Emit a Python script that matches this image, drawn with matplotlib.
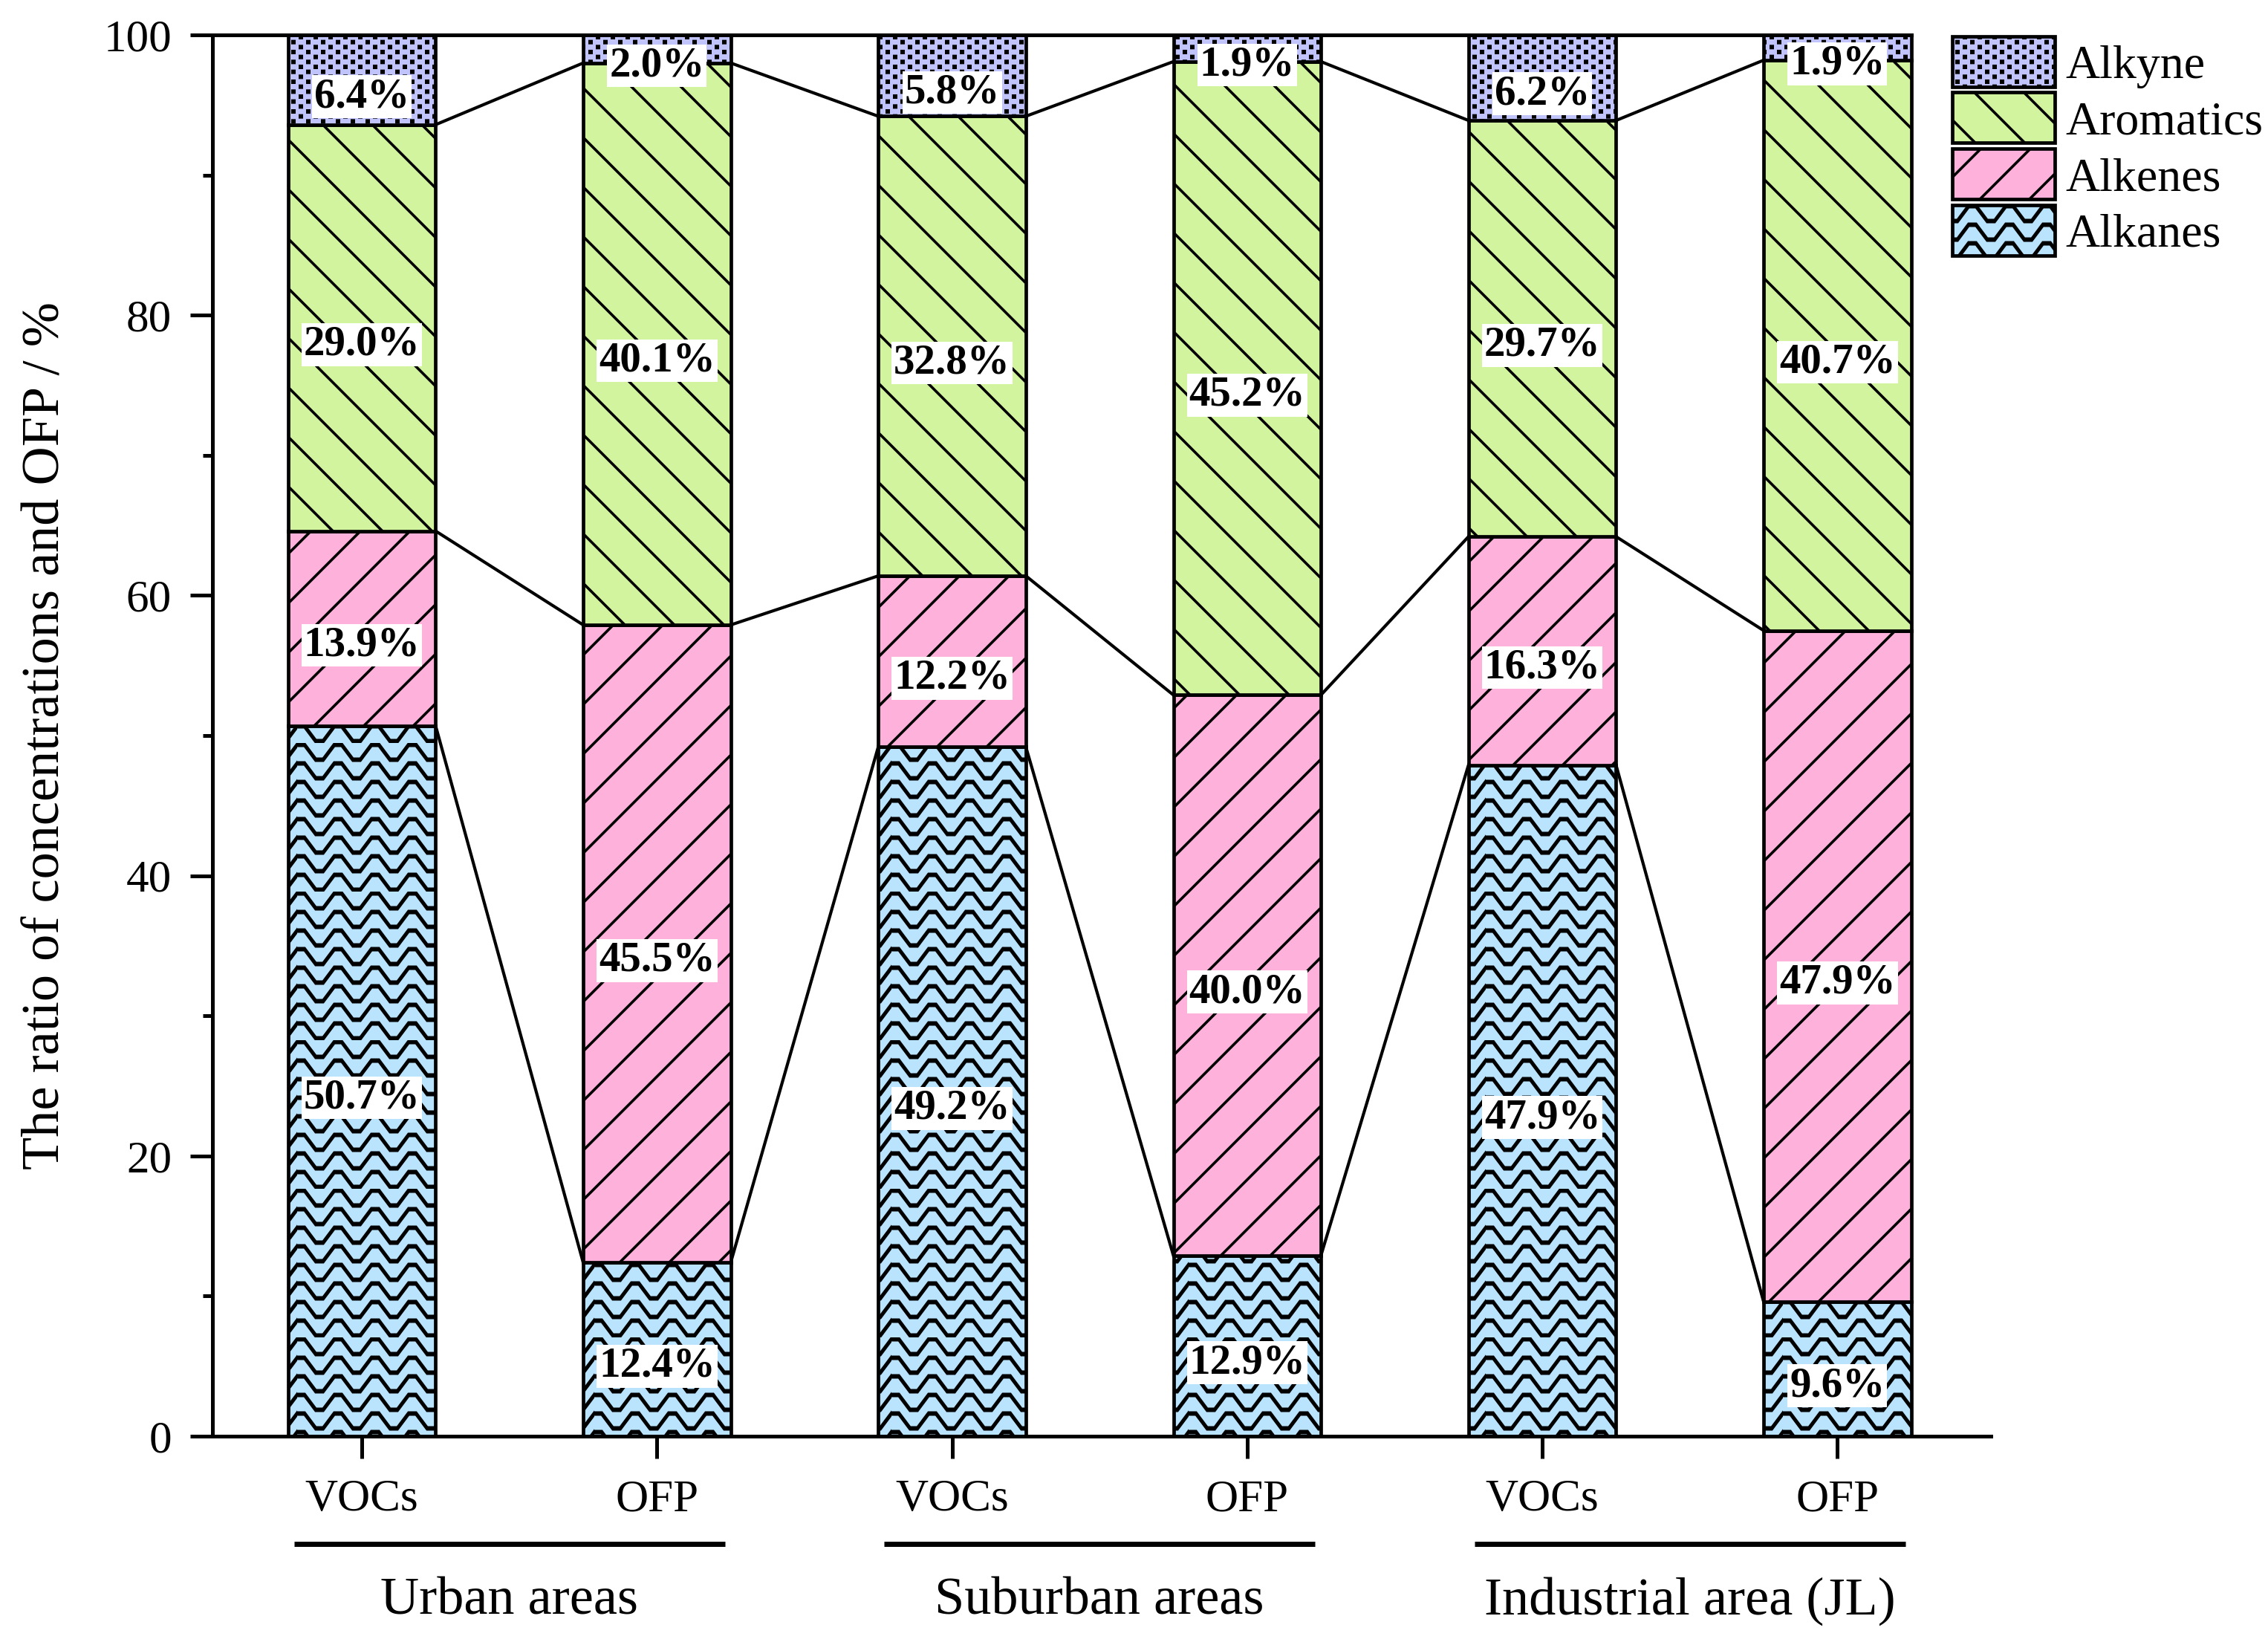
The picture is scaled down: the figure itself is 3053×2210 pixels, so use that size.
import warnings
import numpy as np
import matplotlib
matplotlib.use('Agg')
import matplotlib.pyplot as plt
import matplotlib.hatch as mhatch
from matplotlib.path import Path
from matplotlib.patches import Rectangle
from matplotlib.container import BarContainer
from matplotlib.legend_handler import HandlerPatch, update_from_first_child

warnings.filterwarnings('ignore')

# data (share in %)
areas = ['Urban areas', 'Suburban areas', 'Industrial area (JL)']
kinds = ['VOCs', 'OFP']
alkanes = [50.7, 12.4, 49.2, 12.9, 47.9, 9.6]
alkenes = [13.9, 45.5, 12.2, 40.0, 16.3, 47.9]
aromatics = [29.0, 40.1, 32.8, 45.2, 29.7, 40.7]
alkyne = [6.4, 2.0, 5.8, 1.9, 6.2, 1.9]


# extra hatch patterns: '~' wavy rows, ':' checker dots
class ZigZag(mhatch.HatchPatternBase):
    def __init__(self, hatch, density):
        self.rows = 8 * hatch.count('~')
        self.num_vertices = self.rows * 35

    def set_vertices_and_codes(self, vertices, codes):
        px = np.array([0, .05, .125, .175])
        xs = np.concatenate([px + k * .25 for k in range(4)] + [[1.0]])
        ys = np.concatenate([[1, 1, -1, -1]] * 4 + [[1]]) * 0.05
        t = 0.006
        for r in range(self.rows):
            yc = (r + 0.5) / self.rows
            top = np.column_stack([xs, yc + ys + t])
            bot = np.column_stack([xs, yc + ys - t])[::-1]
            i = r * 35
            vertices[i:i + 17] = top
            vertices[i + 17:i + 34] = bot
            vertices[i + 34] = top[0]
            codes[i] = Path.MOVETO
            codes[i + 1:i + 34] = Path.LINETO
            codes[i + 34] = Path.CLOSEPOLY


class Checker(mhatch.HatchPatternBase):
    def __init__(self, hatch, density):
        self.rows = 30 * hatch.count(':')
        self.cols = self.rows // 3
        self.num_vertices = self.rows * self.cols * 5

    def set_vertices_and_codes(self, vertices, codes):
        s = 0.006
        sq = np.array([[-s, -s], [s, -s], [s, s], [-s, s], [-s, -s]])
        i = 0
        for r in range(self.rows):
            y = (r + 0.5) / self.rows
            for c in range(self.cols):
                x = (c + 0.25 + 0.5 * (r % 2)) / self.cols
                vertices[i:i + 5] = sq + [x, y]
                codes[i:i + 5] = [Path.MOVETO, Path.LINETO, Path.LINETO,
                                  Path.LINETO, Path.CLOSEPOLY]
                i += 5


mhatch._hatch_types.extend([ZigZag, Checker])

plt.rcParams['font.family'] = 'Liberation Serif'
plt.rcParams['hatch.linewidth'] = 1.3

fig = plt.figure(figsize=(3053 / 200, 2210 / 200), dpi=200)
ax = fig.add_axes([0.0937, 0.1253, 0.7841, 0.8534])

series = [
    ('Alkanes', alkanes, '#BAE4FD', '~'),
    ('Alkenes', alkenes, '#FEB1DB', '/'),
    ('Aromatics', aromatics, '#D2F49E', '\\'),
    ('Alkyne', alkyne, '#C0C4FA', ':'),
]

x = np.arange(len(alkanes))
w = 0.5
bottom = np.zeros(len(x))
tops = []
for name, vals, col, hat in series:
    vals = np.array(vals)
    ax.bar(x, vals, w, bottom=bottom, color=col, edgecolor='black',
           linewidth=1.7, hatch=hat, label=name, zorder=2)
    for xi, b, v in zip(x, bottom, vals):
        ax.text(xi, b + v / 2 - 1.2, f'{v:.1f}%', ha='center', va='center',
                fontsize=20.5, fontweight='bold', zorder=5,
                bbox=dict(boxstyle='square,pad=0.05', fc='white', ec='none'))
    bottom = bottom + vals
    tops.append(bottom.copy())

# lines joining the class boundaries of neighbouring bars
for top in tops[:3]:
    for i in range(len(x) - 1):
        ax.plot([x[i] + w / 2, x[i + 1] - w / 2], [top[i], top[i + 1]],
                color='black', lw=1.5, zorder=3)

ax.set_xlim(-0.506, 5.52)
ax.set_ylim(0, 100)
ax.set_yticks(range(0, 101, 20))
ax.set_yticks(range(10, 100, 20), minor=True)
ax.set_xticks(x)
ax.set_xticklabels(kinds * 3)
ax.tick_params(which='major', direction='out', length=10.8, width=1.8,
               labelsize=22)
ax.tick_params(axis='y', which='major', pad=9)
ax.tick_params(axis='x', which='major', pad=10)
ax.tick_params(axis='y', which='minor', direction='out', length=4.7, width=1.8)
ax.spines['right'].set_visible(False)
for s in ['left', 'bottom', 'top']:
    ax.spines[s].set_linewidth(1.8)
ax.spines['top'].set_bounds(-0.506, x[-1] + w / 2)

ax.set_ylabel('The ratio of concentrations and OFP / %', fontsize=26)
ax.yaxis.set_label_coords(-0.080, 0.5)

# area names under the pairs of bars
tr = ax.get_xaxis_transform()
for g, name in enumerate(areas):
    c = (x[2 * g] + x[2 * g + 1]) / 2
    ax.plot([c - 0.73, c + 0.73], [-0.077, -0.077], transform=tr,
            color='black', lw=2.5, clip_on=False, solid_capstyle='butt')
    ax.text(c, -0.127, name, transform=tr, ha='center', va='baseline',
            fontsize=26)


def big_rect(legend, orig_handle, xdescent, ydescent, width, height, fontsize):
    h = fontsize * 1.065
    return Rectangle((-xdescent, -ydescent + height / 2 - h / 2), width, h)


handles, labels = ax.get_legend_handles_labels()
fig.legend(handles[::-1], labels[::-1], loc='upper left',
           bbox_to_anchor=(0.8608, 0.975), frameon=False, fontsize=23,
           handlelength=2.16, handleheight=0.95, handletextpad=0.23,
           labelspacing=0.19, borderpad=0, borderaxespad=0,
           handler_map={BarContainer: HandlerPatch(
               patch_func=big_rect, update_func=update_from_first_child)})

fig.savefig('out.png', dpi=200)
